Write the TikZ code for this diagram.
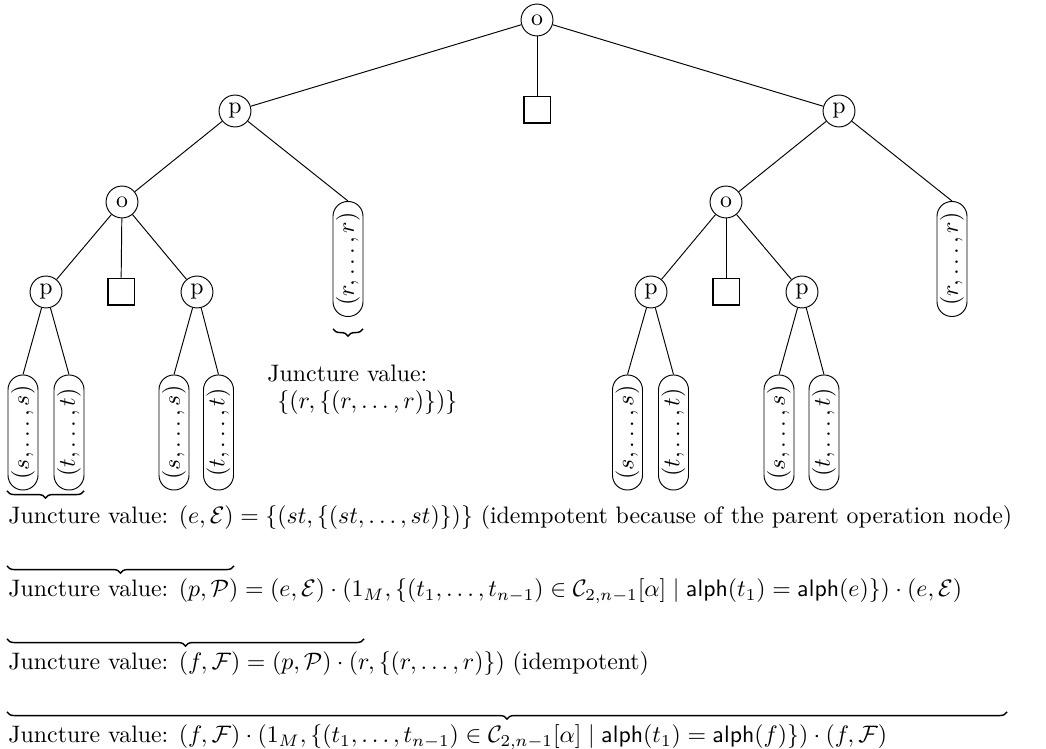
\documentclass[tikz,border=0pt]{standalone}
\usepackage{amsmath}
\usetikzlibrary{decorations.pathreplacing}
\begin{document}
\begin{tikzpicture}[x=0.42pt,y=-0.42pt,
  opnode/.style={draw,circle,minimum size=13.4pt,inner sep=0pt,line width=0.4pt},
  holebox/.style={draw,line width=0.8pt,minimum size=11.3pt,inner sep=0pt},
  leafbox/.style={draw,rotate=90,rounded corners=6.2pt,minimum width=48.3pt,minimum height=12.6pt,inner sep=0pt,line width=0.4pt},
  jtext/.style={anchor=base west,inner sep=0pt},
  bracedec/.style={decorate,decoration={brace,mirror,amplitude=3pt},line width=0.6pt},
  edge/.style={line width=0.4pt}]
\useasboundingbox (0,0) rectangle (1046,749);
% top level
\node[opnode] (o0) at (537,20) {o};
\node[opnode] (pL) at (235,111) {p};
\node[holebox] (h0) at (537,110) {};
\node[opnode] (pR) at (839,111) {p};
% left subtree
\node[opnode] (oL) at (122,202) {o};
\node[leafbox] (rL) at (348,259) {$(r,\ldots,r)$};
\node[opnode] (pLL) at (46,292) {p};
\node[holebox] (hL) at (121,292) {};
\node[opnode] (pLR) at (197,292) {p};
\node[leafbox] (s1) at (23,432.5) {$(s,\ldots,s)$};
\node[leafbox] (t1) at (69,432.5) {$(t,\ldots,t)$};
\node[leafbox] (s2) at (174,432.5) {$(s,\ldots,s)$};
\node[leafbox] (t2) at (218.5,432.5) {$(t,\ldots,t)$};
% right subtree
\node[opnode] (oR) at (726,202) {o};
\node[leafbox] (rR) at (952,259) {$(r,\ldots,r)$};
\node[opnode] (pRL) at (651,292) {p};
\node[holebox] (hR) at (726,292) {};
\node[opnode] (pRR) at (802,292) {p};
\node[leafbox] (s3) at (627.5,432.5) {$(s,\ldots,s)$};
\node[leafbox] (t3) at (673.5,432.5) {$(t,\ldots,t)$};
\node[leafbox] (s4) at (779,432.5) {$(s,\ldots,s)$};
\node[leafbox] (t4) at (824,432.5) {$(t,\ldots,t)$};
% edges
\draw[edge] (o0) -- (pL);
\draw[edge] (o0) -- (h0);
\draw[edge] (o0) -- (pR);
\draw[edge] (pL) -- (oL);
\draw[edge] (pL) -- (rL.east);
\draw[edge] (pR) -- (oR);
\draw[edge] (pR) -- (rR.east);
\draw[edge] (oL) -- (pLL);
\draw[edge] (oL) -- (hL);
\draw[edge] (oL) -- (pLR);
\draw[edge] (oR) -- (pRL);
\draw[edge] (oR) -- (hR);
\draw[edge] (oR) -- (pRR);
\draw[edge] (pLL) -- (s1.east);
\draw[edge] (pLL) -- (t1.east);
\draw[edge] (pLR) -- (s2.east);
\draw[edge] (pLR) -- (t2.east);
\draw[edge] (pRL) -- (s3.east);
\draw[edge] (pRL) -- (t3.east);
\draw[edge] (pRR) -- (s4.east);
\draw[edge] (pRR) -- (t4.east);
% middle juncture label
\node[jtext] (jm1) at (267,382) {Juncture value:};
\node[jtext] (jm2) at (277,409) {$\{(r,\{(r,\ldots,r)\})\}$};
% braces
\coordinate (b1a) at (7,491); \coordinate (b1b) at (84,491);
\coordinate (bra) at (333,329); \coordinate (brb) at (363,329);
\coordinate (b2a) at (7,566); \coordinate (b2b) at (234,566);
\coordinate (b3a) at (7,639); \coordinate (b3b) at (364,639);
\coordinate (b4a) at (7,712); \coordinate (b4b) at (1007,712);
\draw[bracedec] (b1a) -- (b1b);
\draw[bracedec] (bra) -- (brb);
\draw[bracedec] (b2a) -- (b2b);
\draw[bracedec] (b3a) -- (b3b);
\draw[bracedec] (b4a) -- (b4b);
% bottom lines
\node[jtext] (j1) at (8,524) {Juncture value: $(e,\mathcal{E}) = \{(st,\{(st,\ldots,st)\})\}$ (idempotent because of the parent operation node)};
\node[jtext] (j2) at (8,597) {Juncture value: $(p,\mathcal{P}) = (e,\mathcal{E})\cdot(1_M,\{(t_1,\ldots,t_{n-1})\in\mathcal{C}_{2,n-1}[\alpha] \mid \mathsf{alph}(t_1)=\mathsf{alph}(e)\})\cdot(e,\mathcal{E})$};
\node[jtext] (j3) at (8,670) {Juncture value: $(f,\mathcal{F}) = (p,\mathcal{P})\cdot(r,\{(r,\ldots,r)\})$ (idempotent)};
\node[jtext] (j4) at (8,743) {Juncture value: $(f,\mathcal{F})\cdot(1_M,\{(t_1,\ldots,t_{n-1})\in\mathcal{C}_{2,n-1}[\alpha]\mid\mathsf{alph}(t_1)=\mathsf{alph}(f)\})\cdot(f,\mathcal{F})$};
\end{tikzpicture}
\end{document}
